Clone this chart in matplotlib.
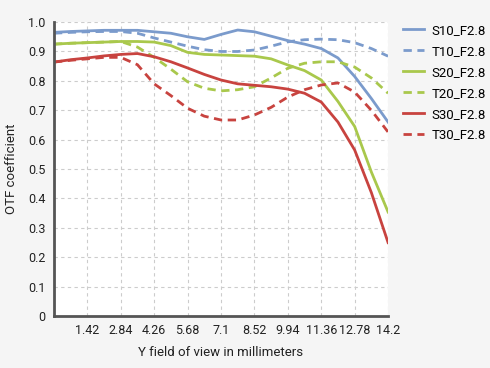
import matplotlib.pyplot as plt
import numpy as np

plt.rcParams['font.family'] = ['Roboto', 'DejaVu Sans']

# field positions (mm), read every 0.71 mm
x = np.round(np.arange(21) * 0.71, 2)
xticks = [1.42, 2.84, 4.26, 5.68, 7.1, 8.52, 9.94, 11.36, 12.78, 14.2]

s10 = [0.965, 0.968, 0.970, 0.972, 0.972, 0.972, 0.967, 0.962, 0.950, 0.941, 0.958,
       0.973, 0.967, 0.952, 0.937, 0.925, 0.910, 0.878, 0.815, 0.740, 0.660]
t10 = [0.962, 0.965, 0.967, 0.968, 0.968, 0.962, 0.946, 0.932, 0.918, 0.906, 0.900,
       0.900, 0.905, 0.918, 0.933, 0.940, 0.942, 0.940, 0.930, 0.910, 0.884]
s20 = [0.925, 0.928, 0.930, 0.932, 0.934, 0.934, 0.932, 0.920, 0.897, 0.890, 0.888,
       0.886, 0.884, 0.875, 0.854, 0.835, 0.803, 0.730, 0.645, 0.490, 0.354]
t20 = [0.925, 0.928, 0.930, 0.932, 0.934, 0.915, 0.880, 0.840, 0.797, 0.775, 0.766,
       0.770, 0.780, 0.810, 0.843, 0.860, 0.865, 0.865, 0.847, 0.810, 0.758]
s30 = [0.864, 0.872, 0.878, 0.885, 0.890, 0.893, 0.882, 0.865, 0.844, 0.822, 0.803,
       0.790, 0.785, 0.780, 0.772, 0.758, 0.728, 0.660, 0.565, 0.420, 0.250]
t30 = [0.864, 0.870, 0.875, 0.880, 0.880, 0.855, 0.790, 0.750, 0.707, 0.680, 0.667,
       0.667, 0.684, 0.710, 0.745, 0.770, 0.786, 0.793, 0.762, 0.700, 0.626]

blue = '#7b9bcc'
green = '#a9c84c'
red = '#c8433f'

fig = plt.figure(figsize=(4.9, 3.68), dpi=100, facecolor='#f5f5f5')
ax = fig.add_axes([0.110, 0.141, 0.682, 0.799])
ax.set_facecolor('white')

ax.plot(x, s10, color=blue, lw=2, label='S10_F2.8')
ax.plot(x, t10, color=blue, lw=2, ls=(0, (3, 2)), label='T10_F2.8')
ax.plot(x, s20, color=green, lw=2, label='S20_F2.8')
ax.plot(x, t20, color=green, lw=2, ls=(0, (3, 2)), label='T20_F2.8')
ax.plot(x, s30, color=red, lw=2, label='S30_F2.8')
ax.plot(x, t30, color=red, lw=2, ls=(0, (3, 2)), label='T30_F2.8')

ax.set_xlim(0, 14.2)
ax.set_ylim(0, 1.0)
ax.set_xticks(xticks)
ax.set_xticklabels([str(v) for v in xticks])
ax.set_yticks(np.arange(0, 1.01, 0.1))
ax.set_yticklabels(['0'] + ['%.1f' % v for v in np.arange(0.1, 1.01, 0.1)])
ax.tick_params(length=0, labelsize=9, colors='#222222', pad=6)
ax.grid(True, color='#cccccc', ls=(0, (3, 3)), lw=0.8)

for s in ['top', 'right']:
    ax.spines[s].set_visible(False)
for s in ['left', 'bottom']:
    ax.spines[s].set_color('#555555')
    ax.spines[s].set_linewidth(2)

ax.set_xlabel('Y field of view in millimeters', fontsize=9.5, color='#222222', labelpad=6)
ax.set_ylabel('OTF coefficient', fontsize=9.5, color='#222222', labelpad=7)

ax.legend(loc='upper left', bbox_to_anchor=(0.822, 0.935), bbox_transform=fig.transFigure,
          frameon=False, fontsize=9.5, handlelength=1.6, labelspacing=0.6,
          handletextpad=0.6, borderpad=0, borderaxespad=0)

fig.savefig('out.png', dpi=100, facecolor=fig.get_facecolor())
